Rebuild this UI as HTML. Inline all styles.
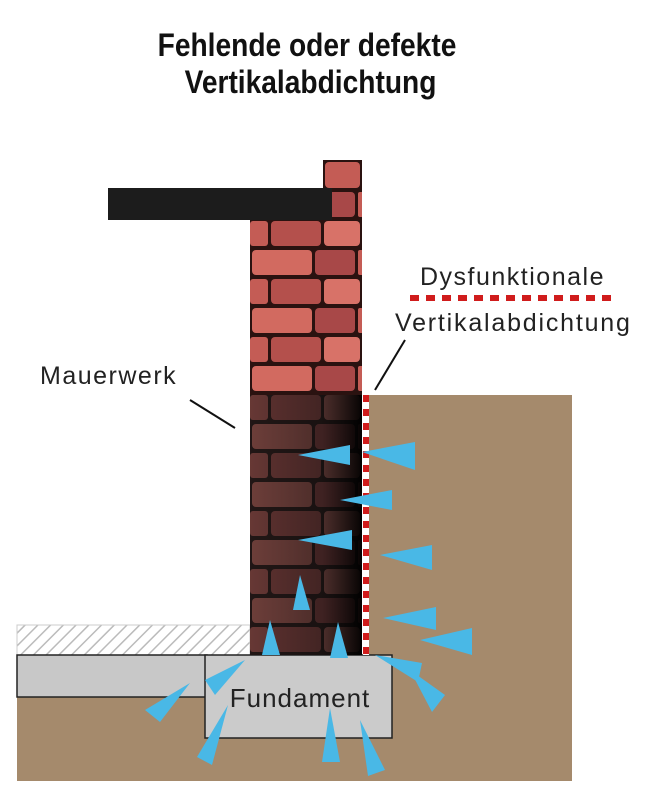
<!DOCTYPE html>
<html><head><meta charset="utf-8"><style>
body{margin:0;background:#fff;width:650px;height:800px;overflow:hidden}
svg{display:block}
</style></head><body>
<svg width="650" height="800" viewBox="0 0 650 800" xmlns="http://www.w3.org/2000/svg">
<defs>
<pattern id="brick" x="250" y="190" width="112" height="58" patternUnits="userSpaceOnUse">
<rect width="112" height="58" fill="#2a1210"/>
<rect x="2" y="2" width="60" height="25" rx="4" fill="#d26a60"/>
<rect x="65" y="2" width="40" height="25" rx="4" fill="#a84848"/>
<rect x="108" y="2" width="6" height="25" rx="2" fill="#c45c55"/>
<rect x="0" y="31" width="18" height="25" rx="3" fill="#c45c55"/>
<rect x="21" y="31" width="50" height="25" rx="4" fill="#b4504c"/>
<rect x="74" y="31" width="36" height="25" rx="4" fill="#d87268"/>
</pattern>
<linearGradient id="dark" x1="0" y1="0" x2="1" y2="0">
<stop offset="0" stop-color="#1a1a1a" stop-opacity="0.55"/>
<stop offset="0.65" stop-color="#111" stop-opacity="0.7"/>
<stop offset="1" stop-color="#000" stop-opacity="0.97"/>
</linearGradient>
<pattern id="hatch" width="9" height="9" patternUnits="userSpaceOnUse" patternTransform="rotate(45)">
<rect width="9" height="9" fill="#fff"/><rect width="1.5" height="9" fill="#bbb"/>
</pattern>
</defs>
<g transform="translate(307 0) scale(0.88 1) translate(-307 0)">
<text x="307" y="56" font-family="Liberation Sans, sans-serif" font-weight="bold" font-size="32" text-anchor="middle" fill="#111">Fehlende oder defekte</text>
<text x="311" y="93" font-family="Liberation Sans, sans-serif" font-weight="bold" font-size="32" text-anchor="middle" fill="#111">Vertikalabdichtung</text>
</g>

<rect x="366" y="395" width="206" height="386" fill="#a58a6c"/>
<rect x="17" y="697" width="360" height="84" fill="#a58a6c"/>
<rect x="17" y="625" width="233" height="30" fill="url(#hatch)" stroke="#ccc"/>
<rect x="17" y="655" width="190" height="42" fill="#c8c8c8" stroke="#222" stroke-width="1.5"/>
<rect x="205" y="655" width="187" height="83" fill="#cbcbcb" stroke="#222" stroke-width="1.5"/>
<text x="300" y="707" font-family="Liberation Sans, sans-serif" font-size="26" letter-spacing="1" text-anchor="middle" fill="#222">Fundament</text>

<rect x="250" y="190" width="112" height="465" fill="url(#brick)"/>
<rect x="323" y="160" width="39" height="30" fill="#2a1210"/>
<rect x="325" y="162" width="35" height="26" rx="4" fill="#c45c55"/>
<rect x="250" y="395" width="112" height="260" fill="url(#dark)"/>
<rect x="108" y="188" width="224" height="32" fill="#1c1c1c"/>
<line x1="366" y1="395" x2="366" y2="655" stroke="#fff" stroke-width="6"/>
<line x1="366" y1="395" x2="366" y2="655" stroke="#d01c1c" stroke-width="6" stroke-dasharray="7 7"/>

<text x="40" y="384" font-family="Liberation Sans, sans-serif" font-size="25" letter-spacing="1.5" fill="#222">Mauerwerk</text>
<line x1="190" y1="400" x2="235" y2="428" stroke="#111" stroke-width="2"/>
<text x="420" y="285" font-family="Liberation Sans, sans-serif" font-size="25" letter-spacing="1.5" fill="#222">Dysfunktionale</text>
<line x1="410" y1="298" x2="616" y2="298" stroke="#d01c1c" stroke-width="6" stroke-dasharray="9 7"/>
<text x="395" y="331" font-family="Liberation Sans, sans-serif" font-size="25" letter-spacing="1.8" fill="#222">Vertikalabdichtung</text>
<line x1="405" y1="340" x2="375" y2="390" stroke="#111" stroke-width="2"/>

<g fill="#49b8e6">
<polygon points="298,455 350,445 350,465"/>
<polygon points="362,452 415,442 415,470"/>
<polygon points="340,500 392,490 392,510"/>
<polygon points="298,540 352,530 352,550"/>
<polygon points="380,555 432,545 432,570"/>
<polygon points="300,575 293,610 310,610"/>
<polygon points="270,620 262,655 280,655"/>
<polygon points="338,622 330,658 348,658"/>
<polygon points="383,618 436,607 436,630"/>
<polygon points="420,640 472,628 472,655"/>
<polygon points="375,655 422,663 418,682"/>
<polygon points="410,670 445,695 432,712"/>
<polygon points="245,660 205,680 215,695"/>
<polygon points="190,683 145,710 160,722"/>
<polygon points="228,705 197,757 212,765"/>
<polygon points="330,708 322,762 340,762"/>
<polygon points="360,720 368,776 385,770"/>
</g>
</svg>
</body></html>
